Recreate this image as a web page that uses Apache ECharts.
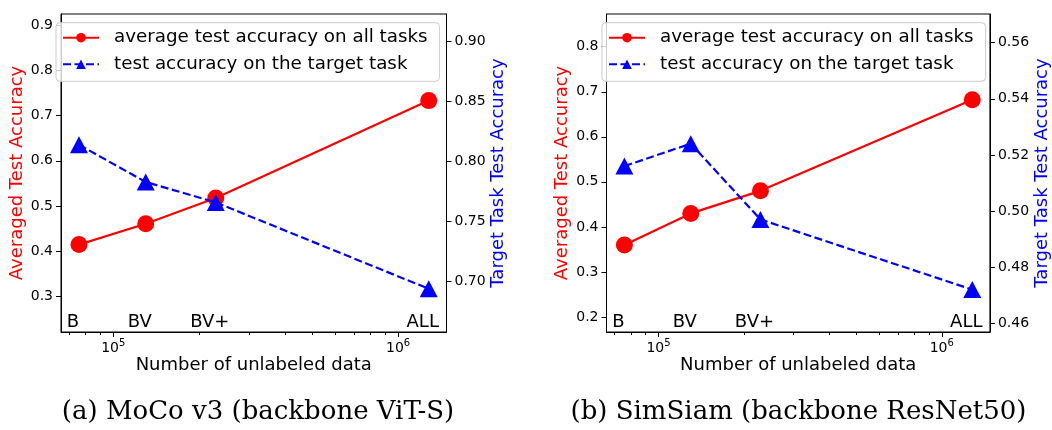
<!DOCTYPE html>
<html>
<head>
<meta charset="utf-8">
<script src="https://cdn.jsdelivr.net/npm/echarts@6/dist/echarts.min.js"></script>
<style>
  html, body { margin: 0; padding: 0; background: #fff; }
  #chart { width: 1052px; height: 430px; }
</style>
</head>
<body>
<div id="chart"></div>
<script>
// Subsets of unlabeled data and their sizes
const categories = ['B', 'BV', 'BV+', 'ALL'];
const unlabeledCounts = [75800, 130000, 229000, 1281000];

// (a) MoCo v3, backbone ViT-S
const mocoAvgAcc = [0.415, 0.461, 0.518, 0.733];
const mocoTargetAcc = [0.814, 0.783, 0.766, 0.694];

// (b) SimSiam, backbone ResNet50
const simsiamAvgAcc = [0.360, 0.430, 0.480, 0.682];
const simsiamTargetAcc = [0.516, 0.524, 0.497, 0.472];

// Axis ticks
const xMajorExponents = [5, 6];
const xMinorValues = [70000, 80000, 90000, 200000, 300000, 400000, 500000, 600000, 700000, 800000, 900000];
const mocoLeftTicks = [0.3, 0.4, 0.5, 0.6, 0.7, 0.8, 0.9];
const mocoRightTicks = [0.70, 0.75, 0.80, 0.85, 0.90];
const simsiamLeftTicks = [0.2, 0.3, 0.4, 0.5, 0.6, 0.7, 0.8];
const simsiamRightTicks = [0.46, 0.48, 0.50, 0.52, 0.54, 0.56];

const captions = ['(a) MoCo v3 (backbone ViT-S)', '(b) SimSiam (backbone ResNet50)'];
const avgName = 'average test accuracy on all tasks';
const targetName = 'test accuracy on the target task';
const xName = 'Number of unlabeled data';
const leftName = 'Averaged Test Accuracy';
const rightName = 'Target Task Test Accuracy';

const X_MIN = 65540, X_MAX = 1478700;
const FONT = 'DejaVu Sans';
const RED = '#ff0000', BLUE = '#0000ff';

const panels = [
  { left: 61, width: 385.5, avg: mocoAvgAcc, target: mocoTargetAcc,
    yl: [0.222, 0.9243], yr: [0.658, 0.923], lt: mocoLeftTicks, rt: mocoRightTicks, ld: 1, rd: 2,
    legendLeft: 56, caption: captions[0], capX: 258 },
  { left: 606.5, width: 385, avg: simsiamAvgAcc, target: simsiamTargetAcc,
    yl: [0.1667, 0.8726], yr: [0.4569, 0.5702], lt: simsiamLeftTicks, rt: simsiamRightTicks, ld: 1, rd: 2,
    legendLeft: 602, caption: captions[1], capX: 798.5 }
];

const grid = [], xAxis = [], yAxis = [], series = [], legend = [], graphic = [];

panels.forEach((p, gi) => {
  grid.push({ left: p.left, top: 14, width: p.width, height: 318, show: true,
              borderColor: '#000', borderWidth: 1, backgroundColor: 'transparent' });

  const xBase = xAxis.length;
  // log-scaled data axis
  xAxis.push({
    type: 'log', logBase: 10, gridIndex: gi, position: 'bottom', min: X_MIN, max: X_MAX,
    axisLine: { show: true, lineStyle: { color: '#000', width: 1 } },
    axisTick: { show: false }, axisLabel: { show: false }, splitLine: { show: false },
    name: xName, nameLocation: 'middle', nameGap: 24,
    nameTextStyle: { fontFamily: FONT, fontSize: 18, color: '#000' }
  });
  // major decade ticks with 10^k labels
  xAxis.push({
    type: 'value', gridIndex: gi, position: 'bottom',
    min: Math.log10(X_MIN), max: Math.log10(X_MAX),
    axisLine: { show: false }, splitLine: { show: false },
    axisTick: { show: true, length: 5, customValues: xMajorExponents, lineStyle: { color: '#000' } },
    axisLabel: {
      show: true, margin: 6, customValues: xMajorExponents,
      formatter: v => '{b|10}{s|' + Math.round(v) + '}',
      rich: {
        b: { fontFamily: FONT, fontSize: 14, color: '#000', lineHeight: 17, verticalAlign: 'bottom' },
        s: { fontFamily: FONT, fontSize: 10, color: '#000', lineHeight: 11, verticalAlign: 'top' }
      }
    }
  });
  // minor ticks
  xAxis.push({
    type: 'value', gridIndex: gi, position: 'bottom',
    min: Math.log10(X_MIN), max: Math.log10(X_MAX),
    axisLine: { show: false }, splitLine: { show: false },
    axisTick: { show: true, length: 3, customValues: xMinorValues.map(v => Math.log10(v)), lineStyle: { color: '#000' } },
    axisLabel: { show: false }
  });

  const yBase = yAxis.length;
  yAxis.push({
    type: 'value', gridIndex: gi, position: 'left', min: p.yl[0], max: p.yl[1],
    axisLine: { show: true, lineStyle: { color: '#000', width: 1 } },
    axisTick: { show: true, length: 5, customValues: p.lt, lineStyle: { color: '#000' } },
    axisLabel: { customValues: p.lt, margin: 8, fontFamily: FONT, fontSize: 14, color: '#000',
                 formatter: v => v.toFixed(p.ld) },
    splitLine: { show: false },
    name: leftName, nameLocation: 'middle', nameGap: 35,
    nameTextStyle: { fontFamily: FONT, fontSize: 18, color: RED }
  });
  yAxis.push({
    type: 'value', gridIndex: gi, position: 'right', min: p.yr[0], max: p.yr[1],
    axisLine: { show: true, lineStyle: { color: '#000', width: 1 } },
    axisTick: { show: true, length: 5, customValues: p.rt, lineStyle: { color: '#000' } },
    axisLabel: { customValues: p.rt, margin: 8, fontFamily: FONT, fontSize: 14, color: '#000',
                 formatter: v => v.toFixed(p.rd) },
    splitLine: { show: false },
    name: rightName, nameLocation: 'middle', nameGap: 43,
    nameTextStyle: { fontFamily: FONT, fontSize: 18, color: BLUE }
  });

  series.push({
    name: avgName, type: 'line', xAxisIndex: xBase, yAxisIndex: yBase,
    data: unlabeledCounts.map((c, i) => [c, p.avg[i]]),
    lineStyle: { color: RED, width: 2.2 }, itemStyle: { color: RED },
    symbol: 'circle', symbolSize: 17, showAllSymbol: true, z: 2
  });
  series.push({
    name: targetName, type: 'line', xAxisIndex: xBase, yAxisIndex: yBase + 1,
    data: unlabeledCounts.map((c, i) => [c, p.target[i]]),
    lineStyle: { color: BLUE, width: 2.2, type: [8, 3.5] }, itemStyle: { color: BLUE },
    symbol: 'triangle', symbolSize: [18, 17], showAllSymbol: true, z: 3
  });
  // subset names along the bottom of the plot
  series.push({
    type: 'scatter', xAxisIndex: xBase, yAxisIndex: yBase, silent: true,
    data: unlabeledCounts.map(c => [c, p.yl[0]]),
    symbolSize: 1, itemStyle: { color: 'rgba(0,0,0,0)', opacity: 1 }, z: 4,
    label: { show: true, position: 'top', distance: 0, offset: [-6, 0],
             formatter: prm => categories[prm.dataIndex],
             fontFamily: FONT, fontSize: 18, color: '#000', opacity: 1 }
  });

  legend.push({
    data: [avgName, targetName], orient: 'vertical', left: p.legendLeft, top: 22.7,
    itemWidth: 36, itemHeight: 12, itemGap: 6.6,
    padding: [5, 12, 7, 6],
    backgroundColor: 'rgba(255,255,255,0.8)', borderColor: '#cccccc', borderWidth: 1, borderRadius: 4,
    textStyle: { fontFamily: FONT, fontSize: 18.3, color: '#000', lineHeight: 20, padding: [0, 0, 0, 10] },
    selectedMode: false
  });

  graphic.push({
    type: 'text', silent: true,
    style: { text: p.caption, x: p.capX, y: 412, align: 'center', verticalAlign: 'middle',
             font: '26px "DejaVu Serif"', fill: '#000' }
  });
});

const chart = echarts.init(document.getElementById('chart'), null, { renderer: 'canvas' });
chart.setOption({
  animation: false,
  backgroundColor: '#fff',
  grid, xAxis, yAxis, series, legend, graphic
});
</script>
</body>
</html>
